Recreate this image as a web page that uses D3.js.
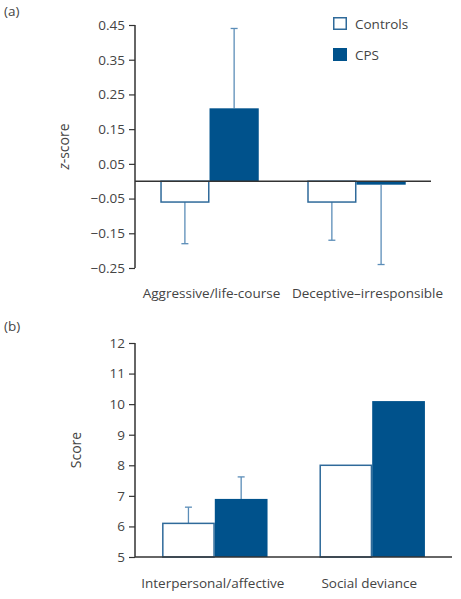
<!DOCTYPE html>
<html><head><meta charset="utf-8">
<script src="https://cdn.jsdelivr.net/npm/d3@7"></script>
<style>
body{margin:0;background:#fff;}
svg{display:block;font-family:"Open Sans",sans-serif;}
</style></head>
<body><svg id="c" width="461" height="599"></svg>
<script>
const series = ["Controls", "CPS"];
const catsA = ["Aggressive/life-course", "Deceptive–irresponsible"];
const controlsA = [-0.06, -0.06];
const controlsErrA = [0.12, 0.11];
const cpsA = [0.21, -0.01];
const cpsErrA = [0.23, 0.23];
const ticksA = [-0.25, -0.15, -0.05, 0.05, 0.15, 0.25, 0.35, 0.45];

const catsB = ["Interpersonal/affective", "Social deviance"];
const controlsB = [6.1, 8.0];
const controlsErrB = [0.53, 0];
const cpsB = [6.9, 10.1];
const cpsErrB = [0.72, 0];
const ticksB = [5, 6, 7, 8, 9, 10, 11, 12];

const DARK = "#00528c", OUT = "#2f6a9a", ERR = "#5b8db8", AX = "#333", TXT = "#444";
const svg = d3.select("#c");

function fmt(v){ return v < 0 ? "\u2212" + d3.format(".2f")(-v) : d3.format(".2f")(v); }

function panel(o){
  const g = svg.append("g");
  const x = d3.scaleBand().domain(o.cats).range([o.x0, o.x1]).paddingInner(0.33).paddingOuter(0.172);
  const xs = d3.scaleBand().domain(series).range([0, x.bandwidth()]);
  const y = d3.scaleLinear().domain(o.dom).range([o.yb, o.yt]);
  const base = y(o.base);
  const rows = [];
  o.cats.forEach((c,i)=>{
    rows.push({c, s:"Controls", v:o.ctrl[i], e:o.ctrlE[i]});
    rows.push({c, s:"CPS", v:o.cps[i], e:o.cpsE[i]});
  });
  rows.forEach(d=>{
    if(!d.e) return;
    const cx = x(d.c) + xs(d.s) + xs.bandwidth()/2;
    const end = d.v >= o.base ? d.v + d.e : d.v - d.e;
    g.append("line").attr("x1",cx).attr("x2",cx).attr("y1",y(d.v)).attr("y2",y(end))
      .attr("stroke",ERR).attr("stroke-width",1.3);
    g.append("line").attr("x1",cx-3.5).attr("x2",cx+3.5).attr("y1",y(end)).attr("y2",y(end))
      .attr("stroke",ERR).attr("stroke-width",1.3);
  });
  rows.forEach(d=>{
    const bx = x(d.c) + xs(d.s);
    const top = Math.min(y(d.v), base), h = Math.abs(y(d.v) - base);
    if(d.s === "CPS"){
      g.append("rect").attr("x",bx).attr("y",top).attr("width",xs.bandwidth()).attr("height",h).attr("fill",DARK);
    } else {
      g.append("rect").attr("x",bx+0.75).attr("y",top).attr("width",xs.bandwidth()-1.5).attr("height",h)
        .attr("fill","#fff").attr("stroke",OUT).attr("stroke-width",1.5);
    }
  });
  const ax = g.append("g").attr("transform",`translate(${o.x0},0)`)
    .call(d3.axisLeft(y).tickValues(o.ticks).tickSize(6).tickPadding(4).tickFormat(o.fmt).tickSizeOuter(0));
  ax.select(".domain").attr("stroke",AX).attr("stroke-width",1.5)
    .attr("d",`M0,${o.yt}V${o.yb}`);
  ax.selectAll(".tick line").attr("stroke",AX).attr("stroke-width",1.2);
  ax.selectAll(".tick text").attr("fill",TXT).style("font-size","13.5px").style("font-family","'Open Sans',sans-serif");
  g.append("line").attr("x1",o.x0).attr("x2",o.x1).attr("y1",base).attr("y2",base).attr("stroke",AX).attr("stroke-width",1.5);
  o.cats.forEach((c,i)=>{
    g.append("text").attr("x",x(c)+x.bandwidth()/2).attr("dx",o.labDx[i]).attr("y",o.labY).attr("text-anchor","middle")
      .attr("fill",TXT).style("font-size","13.5px").text(c);
  });
  const t = g.append("text").attr("transform",`translate(${o.titleX},${(o.yt+o.yb)/2}) rotate(-90)`)
    .attr("text-anchor","middle").attr("fill",TXT).style("font-size","14px");
  o.title(t);
  g.append("text").attr("x",4).attr("y",o.tagY).attr("fill",TXT).style("font-size","13.5px").text(o.tag);
  return g;
}

panel({cats:catsA, ctrl:controlsA, ctrlE:controlsErrA, cps:cpsA, cpsE:cpsErrA, ticks:ticksA,
  dom:[-0.25,0.45], yb:268, yt:25, x0:135, x1:431, base:0, fmt:fmt, labY:298, labDx:[2,11], titleX:69, tagY:16, tag:"(a)",
  title:t=>{ t.append("tspan").style("font-style","italic").text("z"); t.append("tspan").text("-score"); }});

panel({cats:catsB, ctrl:controlsB, ctrlE:controlsErrB, cps:cpsB, cpsE:cpsErrB, ticks:ticksB,
  dom:[5,12], yb:557, yt:343, x0:135, x1:452, base:5, fmt:d3.format("d"), labY:588, labDx:[-2,-3], titleX:81, tagY:331, tag:"(b)",
  title:t=>t.text("Score")});

const leg = svg.append("g");
series.forEach((s,i)=>{
  const yy = 17 + i*31;
  if(s === "CPS") leg.append("rect").attr("x",333).attr("y",yy).attr("width",14).attr("height",13).attr("fill",DARK);
  else leg.append("rect").attr("x",333.75).attr("y",yy+0.75).attr("width",12.5).attr("height",11.5).attr("fill","#fff").attr("stroke",OUT).attr("stroke-width",1.5);
  leg.append("text").attr("x",355).attr("y",yy+11.5).attr("fill",TXT).style("font-size","13.5px").text(s);
});
</script></body></html>
